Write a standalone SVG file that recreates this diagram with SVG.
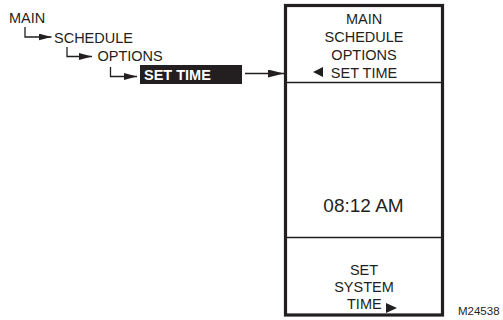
<svg xmlns="http://www.w3.org/2000/svg" width="503" height="320" viewBox="0 0 503 320">
<style>
  text { font-family: "Liberation Sans", Arial, sans-serif; font-size: 14.5px; fill: #231f20; }
  .mid { text-anchor: middle; }
  .bold { font-weight: bold; fill: #ffffff; }
  .big { font-size: 19px; }
  .small { font-size: 11.5px; }
  .line { fill: none; stroke: #231f20; stroke-width: 1.3; }
  .frame { fill: #ffffff; stroke: #231f20; stroke-width: 3.2; }
  .div { stroke: #231f20; stroke-width: 1.5; }
  .tri { fill: #231f20; }
</style>
<defs>
  <marker id="ah" viewBox="0 0 13 7" refX="13" refY="3.5" markerWidth="13" markerHeight="7" markerUnits="userSpaceOnUse" orient="auto">
    <path d="M0,0 L13,3.5 L0,7 z" fill="#231f20"/>
  </marker>
  <marker id="ahl" viewBox="0 0 16 8" refX="16" refY="4" markerWidth="16" markerHeight="8" markerUnits="userSpaceOnUse" orient="auto">
    <path d="M0,0 L16,4 L0,8 z" fill="#231f20"/>
  </marker>
</defs>
<rect width="503" height="320" fill="#ffffff"/>

<g id="menu-main"><text x="9" y="23">MAIN</text></g>
<g id="menu-schedule"><text x="54" y="43">SCHEDULE</text></g>
<g id="menu-options"><text x="97.5" y="61">OPTIONS</text></g>
<g id="menu-settime">
  <rect x="140" y="65" width="102" height="19" fill="#231f20"/>
  <text class="bold" x="144" y="79.5">SET TIME</text>
</g>

<g id="display">
  <rect class="frame" x="285.5" y="5.5" width="157" height="309.5"/>
  <line class="div" x1="285.5" y1="82.5" x2="442.5" y2="82.5"/>
  <line class="div" x1="285.5" y1="237.5" x2="442.5" y2="237.5"/>
  <text class="mid" x="364" y="24">MAIN</text>
  <text class="mid" x="364" y="42">SCHEDULE</text>
  <text class="mid" x="364" y="60">OPTIONS</text>
  <polygon class="tri" points="313,72 323,67 323,77"/>
  <text class="mid" x="364" y="77.5">SET TIME</text>
  <text class="mid big" x="363.5" y="211.5">08:12 AM</text>
  <text class="mid" x="364" y="275">SET</text>
  <text class="mid" x="364" y="292">SYSTEM</text>
  <text x="347" y="309">TIME</text>
  <polygon class="tri" points="386,303 397,308 386,313"/>
</g>

<g id="figure-id"><text class="small" x="458" y="315">M24538</text></g>

<g id="connectors">
  <path class="line" d="M25,27 V37 H51.5" marker-end="url(#ah)"/>
  <path class="line" d="M67,47 V56.5 H92" marker-end="url(#ah)"/>
  <path class="line" d="M110.5,67 V76.5 H137" marker-end="url(#ah)"/>
  <path class="line" d="M245,73.5 H284" marker-end="url(#ahl)"/>
</g>
</svg>
